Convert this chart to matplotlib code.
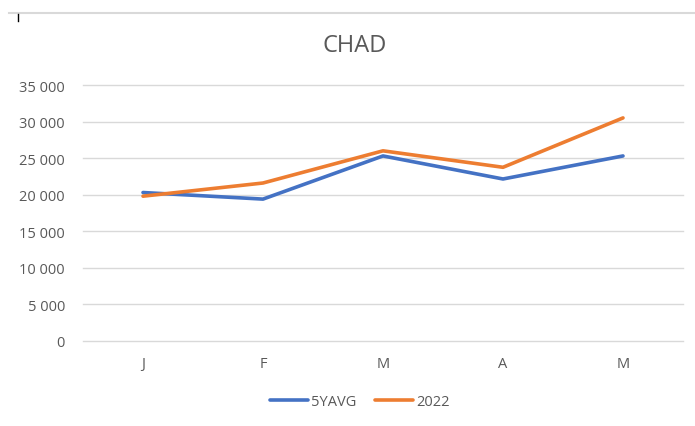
import matplotlib.pyplot as plt
from matplotlib.lines import Line2D
from matplotlib.ticker import FuncFormatter

months = ['J', 'F', 'M', 'A', 'M']
avg5 = [20300, 19400, 25300, 22150, 25300]
y2022 = [19800, 21600, 26000, 23750, 30500]
yticks = [0, 5000, 10000, 15000, 20000, 25000, 30000, 35000]

plt.rcParams['font.family'] = ['Open Sans', 'DejaVu Sans']

fig = plt.figure(figsize=(6.95, 4.27), dpi=100)
ax = fig.add_axes([83 / 695, 1 - 342 / 427, 600 / 695, 256 / 427])

x = range(len(months))
ax.plot(x, avg5, color='#4472C4', lw=2.6, label='5YAVG', solid_capstyle='round')
ax.plot(x, y2022, color='#ED7D31', lw=2.6, label='2022', solid_capstyle='round')

ax.set_xlim(-0.5, len(months) - 0.5)
ax.set_ylim(0, 35000)
ax.set_yticks(yticks)
ax.yaxis.set_major_formatter(FuncFormatter(lambda v, p: f'{int(v):,}'.replace(',', ' ')))
ax.set_xticks(list(x))
ax.set_xticklabels(months)
ax.grid(axis='y', color='#d9d9d9', lw=1)
for gl in ax.get_ygridlines():
    gl.set_clip_on(False)
ax.set_axisbelow(True)
for s in ax.spines.values():
    s.set_visible(False)
ax.tick_params(length=0, labelsize=10.5, labelcolor='#595959')
ax.tick_params(axis='y', pad=13)
ax.tick_params(axis='x', pad=11)

fig.text(355 / 695, 1 - 46 / 427, 'CHAD', ha='center', va='center', fontsize=17, color='#595959')

# chart frame remnants
fig.add_artist(Line2D([9 / 695, 1], [1 - 14 / 427] * 2, color='#d9d9d9', lw=1.5))
fig.add_artist(Line2D([18 / 695] * 2, [1 - 15 / 427, 1 - 22 / 427], color='black', lw=1))

fig.legend(loc='center', bbox_to_anchor=(360 / 695, 1 - 403 / 427), ncol=2, frameon=False,
           fontsize=10.5, labelcolor='#595959', handlelength=2.6, handletextpad=0.2, columnspacing=1.3)

fig.savefig('out.png', dpi=100, facecolor='white')
